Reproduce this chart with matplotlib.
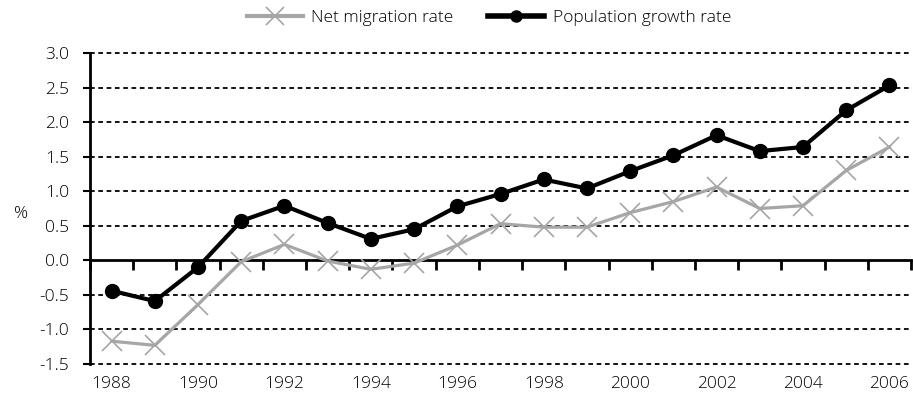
import matplotlib
matplotlib.use("Agg")
import matplotlib.pyplot as plt
from matplotlib.lines import Line2D

plt.rcParams["font.family"] = ["Open Sans", "DejaVu Sans"]
plt.rcParams["font.weight"] = "light"

# Data
years = list(range(1988, 2007))
net_migration = [-1.17, -1.23, -0.64, -0.02, 0.23, -0.01, -0.13, -0.04, 0.22, 0.53,
                 0.48, 0.48, 0.69, 0.85, 1.06, 0.75, 0.79, 1.30, 1.64]
pop_growth = [-0.44, -0.59, -0.10, 0.57, 0.79, 0.54, 0.31, 0.45, 0.78, 0.96,
              1.17, 1.04, 1.29, 1.52, 1.81, 1.58, 1.64, 2.17, 2.53]
label_years = years[::2]
y_ticks = [-1.5, -1.0, -0.5, 0.0, 0.5, 1.0, 1.5, 2.0, 2.5, 3.0]

GREY = "#a6a6a6"
BLACK = "#000000"

fig = plt.figure(figsize=(9.13, 4.08), dpi=100)
ax = fig.add_axes([90 / 913, 1 - 364 / 408, 821 / 913, (364 - 53) / 408])

ax.plot(years, net_migration, color=GREY, linewidth=2.3, marker="x",
        markersize=15, markeredgewidth=1.2, zorder=3, label="Net migration rate")
ax.plot(years, pop_growth, color=BLACK, linewidth=3.0, marker="o",
        markersize=10, zorder=4, label="Population growth rate")

ax.set_xlim(years[0] - 0.5, years[-1] + 0.5)
ax.set_ylim(-1.5, 3.0)

# horizontal dashed gridlines
for v in y_ticks:
    if v != 0:
        ax.axhline(v, color=BLACK, linewidth=1.3, linestyle=(0, (2.6, 2.0)),
                   zorder=1, clip_on=False)

for s in ("top", "right"):
    ax.spines[s].set_visible(False)
ax.spines["left"].set_linewidth(2)
ax.spines["bottom"].set_position(("data", 0))
ax.spines["bottom"].set_linewidth(2)

ax.set_yticks(y_ticks)
ax.set_yticklabels([f"{v:.1f}" for v in y_ticks])
ax.tick_params(axis="y", length=5, width=1.5, labelsize=12.5, pad=10)

# category boundary ticks on the zero line
bounds = [y - 0.5 for y in years] + [years[-1] + 0.5]
ax.set_xticks(bounds)
ax.set_xticklabels([])
ax.tick_params(axis="x", direction="out", length=7, width=2)

sec = ax.secondary_xaxis("bottom")
sec.set_xticks(label_years)
sec.set_xticklabels([str(y) for y in label_years])
sec.tick_params(length=0, labelsize=12.5, pad=9)
sec.spines["bottom"].set_visible(False)

fig.text(14 / 913, 1 - 214 / 408, "%", fontsize=12.5, ha="left", va="center")

handles = [
    Line2D([], [], color=GREY, linewidth=3, marker="x", markersize=13, markeredgewidth=1.2),
    Line2D([], [], color=BLACK, linewidth=4, marker="o", markersize=8),
]
fig.legend(handles, ["Net migration rate", "Population growth rate"],
           loc="center", bbox_to_anchor=(489 / 913, 1 - 18 / 408), ncol=2,
           frameon=False, fontsize=12.5, handlelength=3.2, columnspacing=2.0,
           handletextpad=0.5)

fig.savefig("out.png", dpi=100)
